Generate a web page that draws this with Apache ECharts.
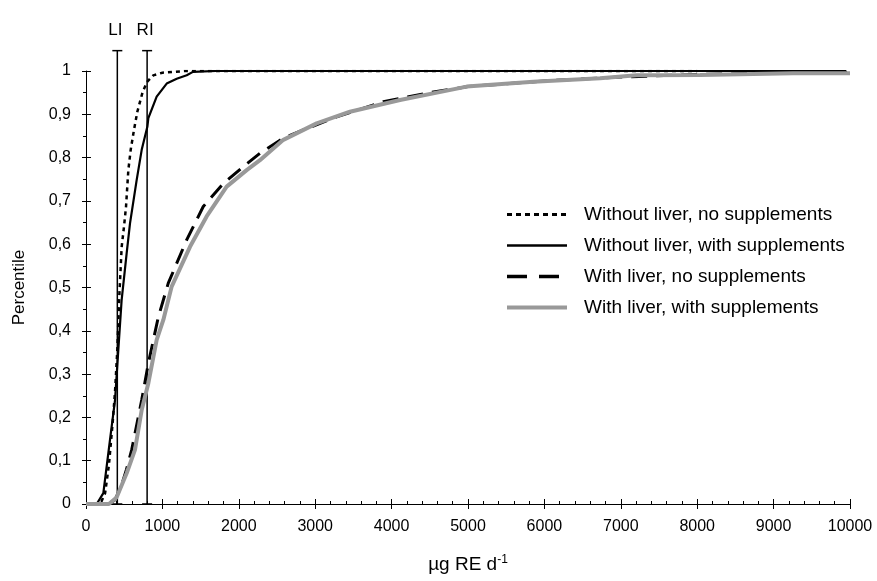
<!DOCTYPE html>
<html>
<head>
<meta charset="utf-8">
<script src="https://cdn.jsdelivr.net/npm/echarts@6/dist/echarts.min.js"></script>
<style>
html,body{margin:0;padding:0;background:#fff;}
#c{width:877px;height:581px;}
</style>
</head>
<body>
<div id="c"></div>
<script>
// ---- data ----
var seriesNames = [
  'Without liver, no supplements',
  'Without liver, with supplements',
  'With liver, no supplements',
  'With liver, with supplements'
];
// [intake µg RE/d, cumulative percentile]
var woLiverNoSupp = [[0,0],[150,0],[200,0.005],[250,0.025],[300,0.09],[350,0.19],[380,0.26],[410,0.356],[436,0.48],[467,0.594],[497,0.64],[524,0.687],[554,0.771],[585,0.818],[628,0.864],[672,0.906],[742,0.952],[800,0.975],[881,0.99],[1000,0.996],[1143,0.998],[1300,1],[8000,1]];
var woLiverSupp = [[0,0],[140,0],[227,0.025],[314,0.148],[380,0.24],[423,0.356],[466,0.47],[532,0.579],[576,0.648],[663,0.748],[729,0.818],[803,0.871],[816,0.891],[925,0.941],[1056,0.971],[1187,0.982],[1318,0.99],[1400,0.998],[1700,1],[9950,1]];
var wLiverNoSupp = [[0,0],[300,0],[380,0.01],[460,0.04],[530,0.08],[598,0.125],[729,0.24],[816,0.325],[947,0.432],[1077,0.51],[1318,0.61],[1535,0.687],[1797,0.74],[2059,0.779],[2277,0.81],[2583,0.845],[2844,0.864],[3281,0.894],[3891,0.929],[4500,0.95],[5000,0.964],[6000,0.977],[7000,0.986],[8000,0.992],[9000,0.995],[10000,0.997]];
var wLiverSupp = [[0,0],[300,0],[400,0.015],[532,0.071],[641,0.125],[729,0.217],[816,0.279],[925,0.379],[1012,0.425],[1121,0.502],[1361,0.594],[1579,0.664],[1841,0.733],[2103,0.771],[2277,0.794],[2583,0.841],[3019,0.879],[3455,0.906],[4110,0.933],[4983,0.964],[5855,0.975],[6728,0.983],[7208,0.99],[8037,0.991],[9254,0.995],[10000,0.995]];
var refLabels = ['LI','RI'];
var refValues = [410, 800];
var refTop = 1.047;
var xTicks = [0,1000,2000,3000,4000,5000,6000,7000,8000,9000,10000];
var yTickLabels = ['0','0,1','0,2','0,3','0,4','0,5','0,6','0,7','0,8','0,9','1'];

var FONT = '"Liberation Sans", Arial, Helvetica, sans-serif';
var chart = echarts.init(document.getElementById('c'), null, {renderer:'canvas'});

var refData = refValues.map(function(v,i){ return [v, refTop, i]; });

var legendStyles = [
  {width: 3, type: [5,4], color: '#000'},
  {width: 2.5, type: 'solid', color: '#000'},
  {width: 3.5, type: [20,12], color: '#000'},
  {width: 4, type: 'solid', color: '#999'}
];

var option = {
  animation: false,
  backgroundColor: '#fff',
  textStyle: {fontFamily: FONT, color: '#000'},
  grid: {left: 86, right: 27, top: 71, bottom: 77, containLabel: false},
  legend: {
    orient: 'vertical',
    left: 500, top: 200,
    itemWidth: 60, itemHeight: 14, itemGap: 12,
    data: seriesNames.map(function(n,i){ return {name: n, lineStyle: legendStyles[i]}; }),
    itemStyle: {opacity: 0},
    textStyle: {fontFamily: FONT, fontSize: 19, color: '#000', padding: [0,0,0,12]}
  },
  xAxis: [{
    type: 'value', min: 0, max: 10000, interval: 1000,
    position: 'bottom',
    axisLine: {lineStyle: {color: '#000', width: 1}},
    axisTick: {show: true, inside: false, length: 5, lineStyle: {color:'#000'}},
    axisLabel: {fontFamily: FONT, fontSize: 16, color: '#000', margin: 15,
      formatter: function(v){ return xTicks.indexOf(v) >= 0 ? String(v) : ''; }},
    splitLine: {show: false},
    name: '{a|µg RE d}{b|-1}',
    nameLocation: 'middle', nameGap: 50,
    nameTextStyle: {rich: {a: {fontFamily: FONT, fontSize: 19, color:'#000'}, b: {fontFamily: FONT, fontSize: 12, color:'#000', verticalAlign:'top', padding:[0,0,10,0]}}}
  },{
    type: 'value', min: 0, max: 10000, interval: 1000,
    position: 'bottom',
    axisLine: {show: false},
    axisTick: {show: true, inside: true, length: 5, lineStyle: {color:'#000'}},
    minorTick: {show: true, splitNumber: 5, length: 3, lineStyle: {color:'#000'}},
    axisLabel: {show: false},
    splitLine: {show: false}
  }],
  yAxis: [{
    type: 'value', min: 0, max: 1, interval: 0.1,
    position: 'left',
    axisLine: {show: true, lineStyle: {color: '#000', width: 1}},
    axisTick: {show: true, inside: false, length: 4, lineStyle: {color:'#000'}},
    minorTick: {show: true, splitNumber: 2, length: 3, lineStyle: {color:'#000'}},
    axisLabel: {fontFamily: FONT, fontSize: 16, color: '#000', margin: 15,
      formatter: function(v){ var i = Math.round(v*10); return yTickLabels[i]; }},
    splitLine: {show: false},
    name: 'Percentile', nameLocation: 'middle', nameGap: 58, nameRotate: 90,
    nameTextStyle: {fontFamily: FONT, fontSize: 17, color: '#000'}
  },{
    type: 'value', min: 0, max: 1, interval: 0.1,
    position: 'left',
    axisLine: {show: false},
    axisTick: {show: true, inside: true, length: 5, lineStyle: {color:'#000'}},
    axisLabel: {show: false},
    splitLine: {show: false}
  }],
  series: [
    {
      type: 'custom', name: 'refs', xAxisIndex: 0, yAxisIndex: 0,
      clip: false, silent: true, z: 1,
      data: refData,
      renderItem: function(params, api){
        var x = api.value(0), top = api.value(1), idx = api.value(2);
        var p0 = api.coord([x, 0]), p1 = api.coord([x, top]);
        var cw = 5;
        var st = {stroke: '#000', lineWidth: 1.5};
        return {type: 'group', children: [
          {type:'line', shape:{x1:p0[0],y1:p0[1],x2:p1[0],y2:p1[1]}, style: st},
          {type:'line', shape:{x1:p1[0]-cw,y1:p1[1],x2:p1[0]+cw,y2:p1[1]}, style: st},
          {type:'line', shape:{x1:p0[0]-cw,y1:p0[1],x2:p0[0]+cw,y2:p0[1]}, style: st},
          {type:'text', style:{text: refLabels[idx], x: p1[0]-2, y: p1[1]-12, align:'center', verticalAlign:'bottom',
            fontFamily: FONT, fontSize: 17, fill: '#000'}}
        ]};
      }
    },
    {
      name: seriesNames[0], type: 'line', data: woLiverNoSupp, symbol: 'none', z: 3,
      lineStyle: {color: '#000', width: 2.5, type: [4,4]}, itemStyle: {color:'#000'}
    },
    {
      name: seriesNames[1], type: 'line', data: woLiverSupp, symbol: 'none', z: 3,
      lineStyle: {color: '#000', width: 2.2, type: 'solid'}, itemStyle: {color:'#000'}
    },
    {
      name: seriesNames[2], type: 'line', data: wLiverNoSupp, symbol: 'none', z: 3,
      lineStyle: {color: '#000', width: 3, type: [16,9]}, itemStyle: {color:'#000'}
    },
    {
      name: seriesNames[3], type: 'line', data: wLiverSupp, symbol: 'none', z: 4,
      lineStyle: {color: '#999', width: 4, type: 'solid'}, itemStyle: {color:'#999'}
    }
  ]
};
chart.setOption(option);
</script>
</body>
</html>
